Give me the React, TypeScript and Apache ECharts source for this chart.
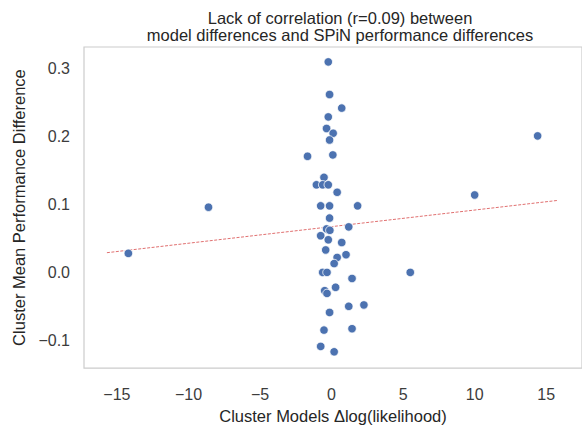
import React, { useEffect, useRef } from "react";
import * as echarts from "echarts";

const TITLE_LINES = [
  "Lack of correlation (r=0.09) between",
  "model differences and SPiN performance differences",
];
const X_NAME = "Cluster Models \u0394log(likelihood)";
const Y_NAME = "Cluster Mean Performance Difference";

const X_TICKS = [-15, -10, -5, 0, 5, 10, 15];
const Y_TICKS = [-0.1, 0.0, 0.1, 0.2, 0.3];

const X_VALUES = [
  -0.23, -0.14, 0.71, -0.23, -0.35, 0.11, -0.14, -1.68, 0.09, -0.53,
  -1.06, -0.62, -0.23, 0.39, -0.76, -0.14, 1.82, -0.14, 1.2, -0.35,
  -0.12, -0.76, -0.23, 0.71, -0.41, 1.01, 0.39, 0.18, -0.62, -0.32,
  1.43, -0.48, -0.32, 0.28, 1.2, 2.26, -0.14, -0.53, 1.43, -0.76,
  0.18, -14.2, -8.6, 5.5, 10.0, 14.4,
];
const Y_VALUES = [
  0.31, 0.262, 0.242, 0.229, 0.212, 0.205, 0.195, 0.171, 0.173, 0.14,
  0.129, 0.129, 0.129, 0.118, 0.098, 0.098, 0.098, 0.08, 0.067, 0.064,
  0.062, 0.054, 0.048, 0.044, 0.033, 0.026, 0.022, 0.013, 0.0, 0.0,
  -0.009, -0.027, -0.031, -0.022, -0.05, -0.048, -0.059, -0.085, -0.083, -0.109,
  -0.117, 0.028, 0.096, 0.0, 0.114, 0.201,
];

const TREND_X = [-15.7, 15.8];
const TREND_Y = [0.029, 0.106];

const fmtMinus = (s: string) => s.replace("-", "\u2212");

export default function App() {
  const ref = useRef<HTMLDivElement>(null);
  useEffect(() => {
    if (!ref.current) return;
    const chart = echarts.init(ref.current, undefined, { renderer: "svg" });
    const font = "'Liberation Sans', Arial, sans-serif";
    chart.setOption({
      animation: false,
      backgroundColor: "#ffffff",
      title: {
        text: TITLE_LINES.join("\n"),
        left: 335,
        top: 4,
        textAlign: "center",
        textStyle: {
          fontFamily: font,
          fontSize: 16.5,
          fontWeight: "normal",
          color: "#262626",
          lineHeight: 17.5,
        },
      },
      grid: {
        left: 84,
        top: 47,
        width: 503,
        height: 325,
        show: true,
        borderColor: "#cccccc",
        borderWidth: 1.2,
        backgroundColor: "transparent",
      },
      xAxis: {
        type: "value",
        min: -17.3,
        max: 17.5,
        name: X_NAME,
        nameLocation: "middle",
        nameGap: 36,
        nameTextStyle: { fontFamily: font, fontSize: 16.5, color: "#262626" },
        axisLine: { show: false },
        axisTick: { show: false },
        splitLine: { show: false },
        axisLabel: {
          customValues: X_TICKS,
          fontFamily: font,
          fontSize: 16,
          color: "#3c3c3c",
          margin: 18,
          formatter: (v: number) => fmtMinus(String(v)),
        },
      },
      yAxis: {
        type: "value",
        min: -0.141,
        max: 0.332,
        name: Y_NAME,
        nameLocation: "middle",
        nameGap: 56,
        nameTextStyle: { fontFamily: font, fontSize: 16.5, color: "#262626" },
        axisLine: { show: false },
        axisTick: { show: false },
        splitLine: { show: false },
        axisLabel: {
          customValues: Y_TICKS,
          fontFamily: font,
          fontSize: 16,
          color: "#3c3c3c",
          margin: 14,
          formatter: (v: number) => fmtMinus(v.toFixed(1)),
        },
      },
      series: [
        {
          type: "line",
          data: TREND_X.map((x, i) => [x, TREND_Y[i]]),
          symbol: "none",
          lineStyle: { color: "#e07070", width: 1, type: [3, 1.5] },
          z: 1,
        },
        {
          type: "scatter",
          data: X_VALUES.map((x, i) => [x, Y_VALUES[i]]),
          symbolSize: 8.5,
          itemStyle: {
            color: "#4c72b0",
            opacity: 1,
            borderColor: "#ffffff",
            borderWidth: 0.8,
          },
          z: 2,
        },
      ],
    });
    return () => chart.dispose();
  }, []);
  return (
    <div
      ref={ref}
      style={{ position: "fixed", left: 0, top: 0, width: 582, height: 429 }}
    />
  );
}
